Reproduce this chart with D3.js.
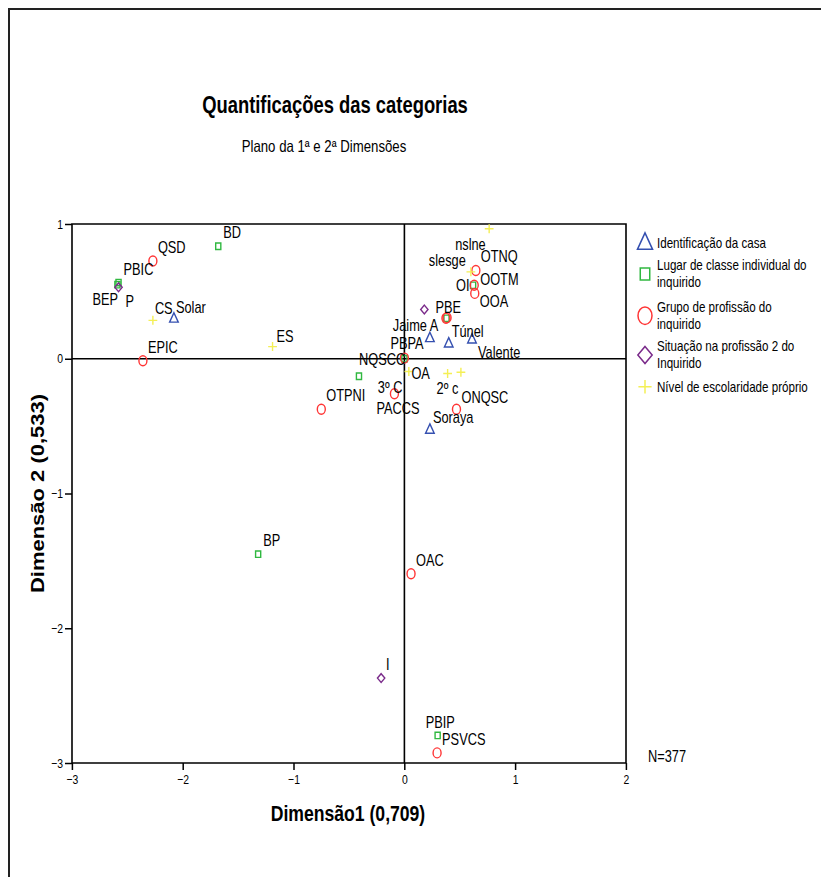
<!DOCTYPE html>
<html>
<head>
<meta charset="utf-8">
<script src="https://cdn.jsdelivr.net/npm/d3@7"></script>
<style>
  html, body { margin: 0; padding: 0; background: #fff; }
  svg { display: block; }
  text { font-family: "Liberation Sans", Arial, sans-serif; fill: #000; }
</style>
</head>
<body>
<div id="chart"></div>
<script>
// ---------------- DATA ----------------
const casaNames = ["Solar", "Jaime A", "Túnel", "Valente", "Soraya"];
const casaX = [-2.08, 0.23, 0.40, 0.61, 0.23];
const casaY = [0.30, 0.155, 0.115, 0.145, -0.525];

const classeNames = ["BD", "PBIC", "BEP", "NQSCC", "BP", "OI", "PBIP", "PBE", "PBPA"];
const classeX = [-1.68, -2.58, -2.59, -0.41, -1.32, 0.62, 0.30, 0.38, 0.0];
const classeY = [0.835, 0.565, 0.55, -0.13, -1.45, 0.545, -2.795, 0.30, 0.0];

const profNames = ["QSD", "EPIC", "OTPNI", "PACCS", "OA", "ONQSC", "OAC", "PSVCS", "", "", "OTNQ", "OOTM", "OOA"];
const profX = [-2.27, -2.36, -0.75, -0.09, 0.0, 0.47, 0.06, 0.295, 0.375, 0.385, 0.645, 0.63, 0.635];
const profY = [0.725, -0.015, -0.375, -0.26, 0.005, -0.375, -1.595, -2.925, 0.30, 0.305, 0.655, 0.545, 0.485];

const sitNames = ["P", "", "I"];
const sitX = [-2.58, 0.18, -0.21];
const sitY = [0.53, 0.365, -2.37];

const escNames = ["nslne", "slesge", "CS", "ES", "3º C", "2º c", ""];
const escX = [0.765, 0.60, -2.27, -1.19, 0.04, 0.39, 0.51];
const escY = [0.965, 0.645, 0.285, 0.09, -0.095, -0.11, -0.10];

const seriesNames = [
  "Identificação da casa",
  "Lugar de classe individual do inquirido",
  "Grupo de profissão do inquirido",
  "Situação na profissão 2 do Inquirido",
  "Nível de escolaridade próprio"
];
const legendLines = [
  ["Identificação da casa"],
  ["Lugar de classe individual do", "inquirido"],
  ["Grupo de profissão do", "inquirido"],
  ["Situação na profissão 2 do", "Inquirido"],
  ["Nível de escolaridade próprio"]
];
const xTicks = [-3, -2, -1, 0, 1, 2];
const yTicks = [1, 0, -1, -2, -3];
const titleText = "Quantificações das categorias";
const subtitleText = "Plano da 1ª e 2ª Dimensões";
const xTitle = "Dimensão1 (0,709)";
const yTitle = "Dimensão 2 (0,533)";
const nText = "N=377";

// ---------------- LAYOUT / STYLE ----------------
const W = 821, H = 877;
const SX = 0.8;                 // horizontal compression of the original picture
const X = v => v / SX;          // screen px -> inner units
const colors = ["#3550b0", "#30b840", "#ff3535", "#7a2a8a", "#f4ef55"];
const shapes = ["triangle", "square", "circle", "diamond", "plus"];
const labelOffsets = {
  "Solar": [2, -5], "Jaime A": [-37, -7], "Túnel": [3, -6], "Valente": [6, 19], "Soraya": [3, -6],
  "CS": [2, -6], "ES": [4, -5], "BEP": [-25, 20], "P": [7, 20], "NQSCC": [0, -11], "OI": [-17, 6],
  "PBIP": [-12, -7], "PACCS": [-18, 20], "ONQSC": [5, -6], "OOTM": [6, 0], "OOA": [5, 14],
  "PBE": [-11, -5], "nslne": [-34, 21], "slesge": [-42, -6], "3º C": [-31, 21], "2º c": [-11, 20],
  "OA": [7, 21], "PBPA": [-14, -10]
};
const defaultOffset = [5, -8];

const series = [
  { names: casaNames, xs: casaX, ys: casaY },
  { names: classeNames, xs: classeX, ys: classeY },
  { names: profNames, xs: profX, ys: profY },
  { names: sitNames, xs: sitX, ys: sitY },
  { names: escNames, xs: escX, ys: escY }
];

function shapePath(type, s) {
  const p = d3.path();
  if (type === "triangle") {
    p.moveTo(0, -5.6 * s); p.lineTo(5.4 * s, 3.8 * s); p.lineTo(-5.4 * s, 3.8 * s); p.closePath();
  } else if (type === "square") {
    p.rect(-3.2 * s, -3.2 * s, 6.4 * s, 6.4 * s);
  } else if (type === "circle") {
    p.moveTo(5 * s, 0); p.arc(0, 0, 5 * s, 0, 2 * Math.PI);
  } else if (type === "diamond") {
    p.moveTo(0, -4.4 * s); p.lineTo(4.6 * s, 0); p.lineTo(0, 4.4 * s); p.lineTo(-4.6 * s, 0); p.closePath();
  } else if (type === "plus") {
    p.moveTo(-5.5 * s, 0); p.lineTo(5.5 * s, 0); p.moveTo(0, -4.5 * s); p.lineTo(0, 4.5 * s);
  }
  return p.toString();
}

const svg = d3.select("#chart").append("svg").attr("width", W).attr("height", H);
svg.append("rect").attr("width", W).attr("height", H).attr("fill", "#fff");
const root = svg.append("g").attr("transform", `scale(${SX},1)`);

// outer frame
root.append("path")
  .attr("d", `M${X(9)},${H + 20}V9H${X(W + 20)}`)
  .attr("fill", "none").attr("stroke", "#222").attr("stroke-width", 2)
  .attr("vector-effect", "non-scaling-stroke");

const x = d3.scaleLinear().domain([-3, 2]).range([X(72), X(626)]);
const y = d3.scaleLinear().domain([-3, 1]).range([763, 224]);

// titles
root.append("text").attr("x", X(335)).attr("y", 113).attr("text-anchor", "middle")
  .style("font-size", "23px").style("font-weight", "bold").text(titleText);
root.append("text").attr("x", X(324)).attr("y", 152).attr("text-anchor", "middle")
  .style("font-size", "16.5px").text(subtitleText);

// plot frame
root.append("rect")
  .attr("x", x(-3)).attr("y", y(1)).attr("width", x(2) - x(-3)).attr("height", y(-3) - y(1))
  .attr("fill", "none").attr("stroke", "#000").attr("stroke-width", 1.6)
  .attr("vector-effect", "non-scaling-stroke");
// zero lines
root.append("line").attr("x1", x(0)).attr("x2", x(0)).attr("y1", y(1)).attr("y2", y(-3))
  .attr("stroke", "#000").attr("stroke-width", 1.6).attr("vector-effect", "non-scaling-stroke");
root.append("line").attr("x1", x(-3)).attr("x2", x(2)).attr("y1", y(0)).attr("y2", y(0))
  .attr("stroke", "#000").attr("stroke-width", 1.6).attr("vector-effect", "non-scaling-stroke");

// axes
const yAxis = root.append("g").attr("transform", `translate(${x(-3)},0)`)
  .call(d3.axisLeft(y).tickValues(yTicks).tickSize(X(7)).tickPadding(X(2)).tickFormat(d3.format("d")));
const xAxis = root.append("g").attr("transform", `translate(0,${y(-3)})`)
  .call(d3.axisBottom(x).tickValues(xTicks).tickSize(7).tickPadding(5).tickFormat(d3.format("d")));
[xAxis, yAxis].forEach(a => {
  a.select(".domain").remove();
  a.selectAll(".tick line").attr("stroke", "#000").attr("stroke-width", 1.5).attr("vector-effect", "non-scaling-stroke");
  a.selectAll(".tick text").style("font-size", "13px").style("font-family", '"Liberation Sans", Arial, sans-serif').attr("fill", "#000");
});

// axis titles
root.append("text").attr("x", X(348)).attr("y", 821).attr("text-anchor", "middle")
  .style("font-size", "22px").style("font-weight", "bold").text(xTitle);
root.append("text").attr("transform", `translate(${X(43.5)},${(y(1) + y(-3)) / 2}) rotate(-90)`)
  .attr("text-anchor", "middle").style("font-size", "22px").style("font-weight", "bold").text(yTitle);

// marks
series.forEach((s, i) => {
  const g = root.append("g");
  const idx = d3.range(s.xs.length);
  g.selectAll("path").data(idx).join("path")
    .attr("transform", d => `translate(${x(s.xs[d])},${y(s.ys[d])})`)
    .attr("d", shapePath(shapes[i], 1))
    .attr("fill", "none").attr("stroke", colors[i]).attr("stroke-width", 1.4)
    .attr("vector-effect", "non-scaling-stroke");
});
// labels
series.forEach((s, i) => {
  const g = root.append("g");
  const idx = d3.range(s.xs.length).filter(d => s.names[d] !== "");
  g.selectAll("text").data(idx).join("text")
    .attr("x", d => x(s.xs[d]) + X((labelOffsets[s.names[d]] || defaultOffset)[0]))
    .attr("y", d => y(s.ys[d]) + (labelOffsets[s.names[d]] || defaultOffset)[1])
    .style("font-size", "16px")
    .text(d => s.names[d]);
});

// legend
const legendMarkY = [242.7, 274, 315.7, 355, 386.7];
const legendScale = [1.75, 1.85, 1.75, 1.95, 1.5];
const legend = root.append("g");
seriesNames.forEach((name, i) => {
  const gi = legend.append("g").attr("class", "legend-item").attr("data-name", name);
  gi.append("path")
    .attr("transform", `translate(${X(645)},${legendMarkY[i]})`)
    .attr("d", shapePath(shapes[i], legendScale[i]))
    .attr("fill", "none").attr("stroke", colors[i]).attr("stroke-width", 1.5)
    .attr("vector-effect", "non-scaling-stroke");
  const lines = legendLines[i];
  const n = lines.length;
  lines.forEach((ln, k) => {
    gi.append("text")
      .attr("x", X(657))
      .attr("y", legendMarkY[i] + 5 + (k - (n - 1) / 2) * 17)
      .style("font-size", "14.5px")
      .text(ln);
  });
});

// N
root.append("text").attr("x", X(648)).attr("y", 762).style("font-size", "16px").text(nText);
</script>
</body>
</html>
